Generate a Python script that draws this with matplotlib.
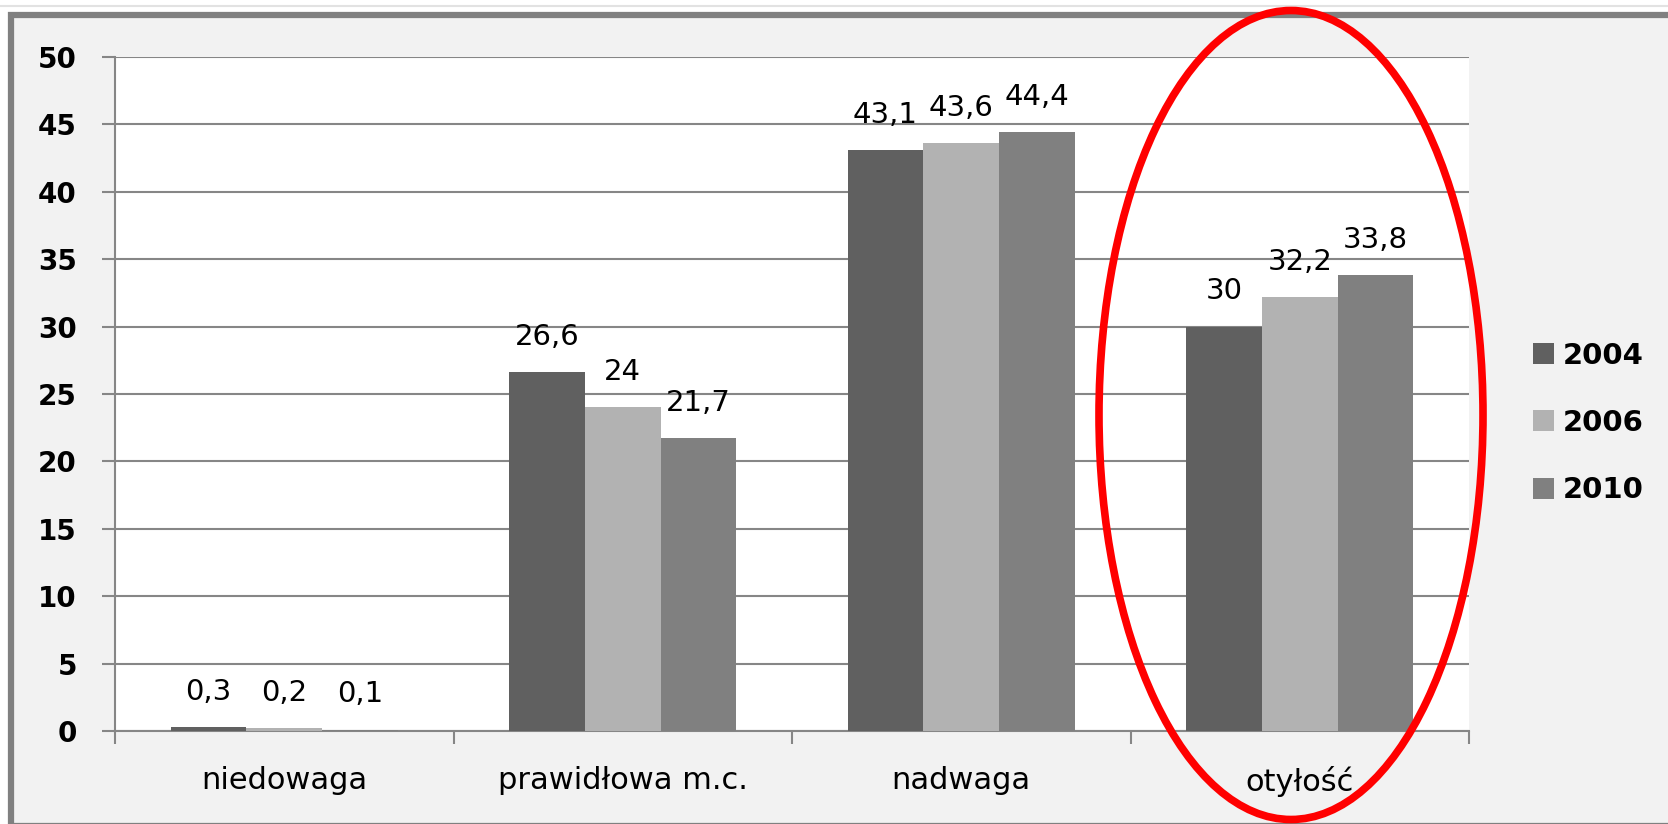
import matplotlib.pyplot as plt
import numpy as np
from matplotlib.patches import Ellipse, Rectangle

categories = ["niedowaga", "prawidłowa m.c.", "nadwaga", "otyłość"]
years = ["2004", "2006", "2010"]
v2004 = [0.3, 26.6, 43.1, 30]
v2006 = [0.2, 24, 43.6, 32.2]
v2010 = [0.1, 21.7, 44.4, 33.8]
colors = ["#606060", "#b2b2b2", "#808080"]

W, H = 1668, 824
fig = plt.figure(figsize=(W / 100, H / 100), dpi=100)
fig.patch.set_facecolor("white")

# outer chart frame
frame = Rectangle((11 / W, 0 - 2 / H), 1.2, 1 - 15 / H + 2 / H, transform=fig.transFigure,
                  facecolor="#f2f2f2", edgecolor="#808080", linewidth=4.5, zorder=-10)
fig.patches.append(frame)
fig.add_artist(plt.Line2D([0, 1], [1 - 6 / H, 1 - 6 / H], transform=fig.transFigure,
                          color="#e2e2e2", linewidth=1.5, zorder=-10))

ax = fig.add_axes([115 / W, 1 - 731 / H, (1469 - 115) / W, (731 - 57) / H])
ax.set_facecolor("white")

x = np.arange(len(categories))
w = 0.2236
for i, (vals, col) in enumerate(zip([v2004, v2006, v2010], colors)):
    xs = x + (i - 1) * w
    ax.bar(xs, vals, width=w, color=col, label=years[i], zorder=3)
    for xx, v in zip(xs, vals):
        txt = (f"{v:g}").replace(".", ",")
        ax.annotate(txt, xy=(xx, v), xytext=(0, 25.5), textcoords="offset points",
                    ha="center", va="center", fontsize=21, color="black", zorder=4)

ax.set_xlim(-0.5, 3.5)
ax.set_ylim(0, 50)
ax.set_yticks(np.arange(0, 51, 5))
ax.yaxis.grid(True, color="#868686", linewidth=1.5, zorder=1)
ax.set_axisbelow(True)

for s in ["top", "right"]:
    ax.spines[s].set_visible(False)
for s in ["left", "bottom"]:
    ax.spines[s].set_color("#868686")
    ax.spines[s].set_linewidth(1.5)

ax.tick_params(axis="y", length=9.4, width=1.5, color="#868686", pad=18,
               labelsize=20, labelcolor="black")
for lab in ax.get_yticklabels():
    lab.set_fontweight("bold")

ax.set_xticks(np.arange(-0.5, 3.6, 1.0))
ax.set_xticklabels([])
ax.tick_params(axis="x", which="major", length=9.4, width=1.5, color="#868686")
ax.set_xticks(x, minor=True)
ax.set_xticklabels(categories, minor=True)
ax.tick_params(axis="x", which="minor", length=0, pad=25, labelsize=22, labelcolor="black")

leg = fig.legend(loc="center left", bbox_to_anchor=(1533 / W, 1 - 423 / H), frameon=False,
                 fontsize=21, handlelength=0.72, handleheight=0.72, handletextpad=0.3,
                 labelspacing=1.35, borderpad=0, borderaxespad=0)
for t in leg.get_texts():
    t.set_fontweight("bold")

# red ellipse highlighting "otyłość"
ell = Ellipse((1291 / W, 1 - 415 / H), 384 / W, 809 / H, transform=fig.transFigure,
              fill=False, edgecolor="#ff0000", linewidth=5.5, zorder=10)
fig.add_artist(ell)

fig.savefig("out.png", dpi=100, facecolor=fig.get_facecolor())
